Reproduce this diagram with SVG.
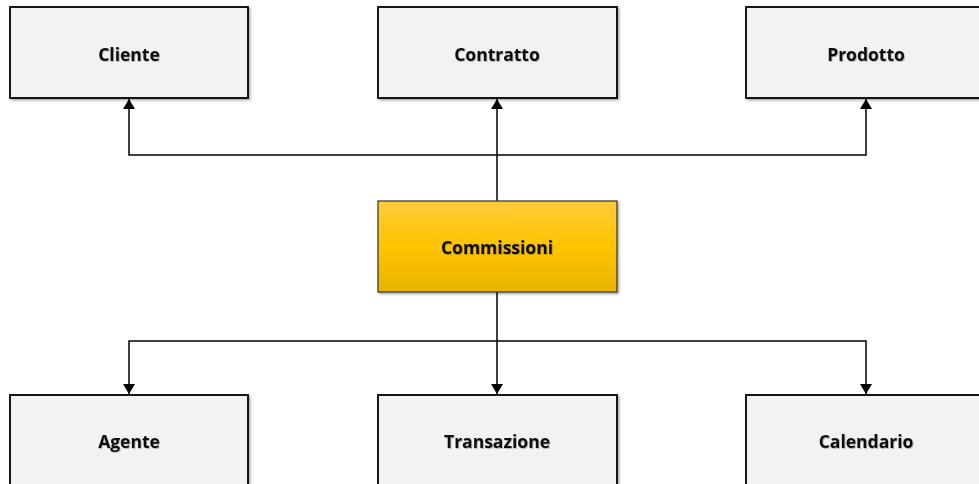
<svg xmlns="http://www.w3.org/2000/svg" width="979" height="484" viewBox="0 0 979 484">
  <defs>
    <linearGradient id="gold" x1="0" y1="0" x2="0" y2="1">
      <stop offset="0" stop-color="#ffcb3a"/>
      <stop offset="0.5" stop-color="#ffc400"/>
      <stop offset="1" stop-color="#e8b400"/>
    </linearGradient>
    <filter id="shadow" x="-5%" y="-5%" width="115%" height="120%">
      <feDropShadow dx="1.5" dy="1.5" stdDeviation="1.2" flood-color="#000" flood-opacity="0.35"/>
    </filter>
    <filter id="tshadow" x="-5%" y="-20%" width="110%" height="140%">
      <feDropShadow dx="0.8" dy="0.8" stdDeviation="0.6" flood-color="#000" flood-opacity="0.3"/>
    </filter>
    <marker id="arrow" viewBox="0 0 10 12" refX="10" refY="6" markerWidth="10" markerHeight="12" markerUnits="userSpaceOnUse" orient="auto">
      <path d="M0,0 L10,6 L0,12 Z" fill="#000"/>
    </marker>
  </defs>
  <style>
    .box { fill: #f2f2f2; stroke: #000; stroke-width: 1.8; filter: url(#shadow); }
    .hub { fill: url(#gold); stroke: #333; stroke-width: 1.2; filter: url(#shadow); }
    .label { font-family: "Open Sans", "Liberation Sans", sans-serif; font-weight: bold; font-size: 17.5px; fill: #111; text-anchor: middle; dominant-baseline: central; filter: url(#tshadow); }
    .wire { fill: none; stroke: #000; stroke-width: 1.5; }
  </style>

  <rect width="979" height="484" fill="#ffffff"/>

  <g id="connectors">
    <!-- upper fan-out -->
    <path class="wire" d="M497,201 L497,99" marker-end="url(#arrow)"/>
    <path class="wire" d="M497,155 L129,155 L129,99" marker-end="url(#arrow)"/>
    <path class="wire" d="M497,155 L866,155 L866,99" marker-end="url(#arrow)"/>
    <!-- lower fan-out -->
    <path class="wire" d="M497,292 L497,394" marker-end="url(#arrow)"/>
    <path class="wire" d="M497,341 L129,341 L129,394" marker-end="url(#arrow)"/>
    <path class="wire" d="M497,341 L866,341 L866,394" marker-end="url(#arrow)"/>
  </g>

  <g id="cliente">
    <rect class="box" x="10" y="7" width="238" height="91"/>
    <text class="label" x="129" y="54">Cliente</text>
  </g>
  <g id="contratto">
    <rect class="box" x="378" y="7" width="239" height="91"/>
    <text class="label" x="497" y="54">Contratto</text>
  </g>
  <g id="prodotto">
    <rect class="box" x="746" y="7" width="240" height="91"/>
    <text class="label" x="866" y="54">Prodotto</text>
  </g>
  <g id="commissioni">
    <rect class="hub" x="378" y="201" width="239" height="91"/>
    <text class="label" x="497" y="247">Commissioni</text>
  </g>
  <g id="agente">
    <rect class="box" x="10" y="395" width="238" height="100"/>
    <text class="label" x="129" y="441">Agente</text>
  </g>
  <g id="transazione">
    <rect class="box" x="378" y="395" width="239" height="100"/>
    <text class="label" x="497" y="441">Transazione</text>
  </g>
  <g id="calendario">
    <rect class="box" x="746" y="395" width="240" height="100"/>
    <text class="label" x="866" y="441">Calendario</text>
  </g>
</svg>
